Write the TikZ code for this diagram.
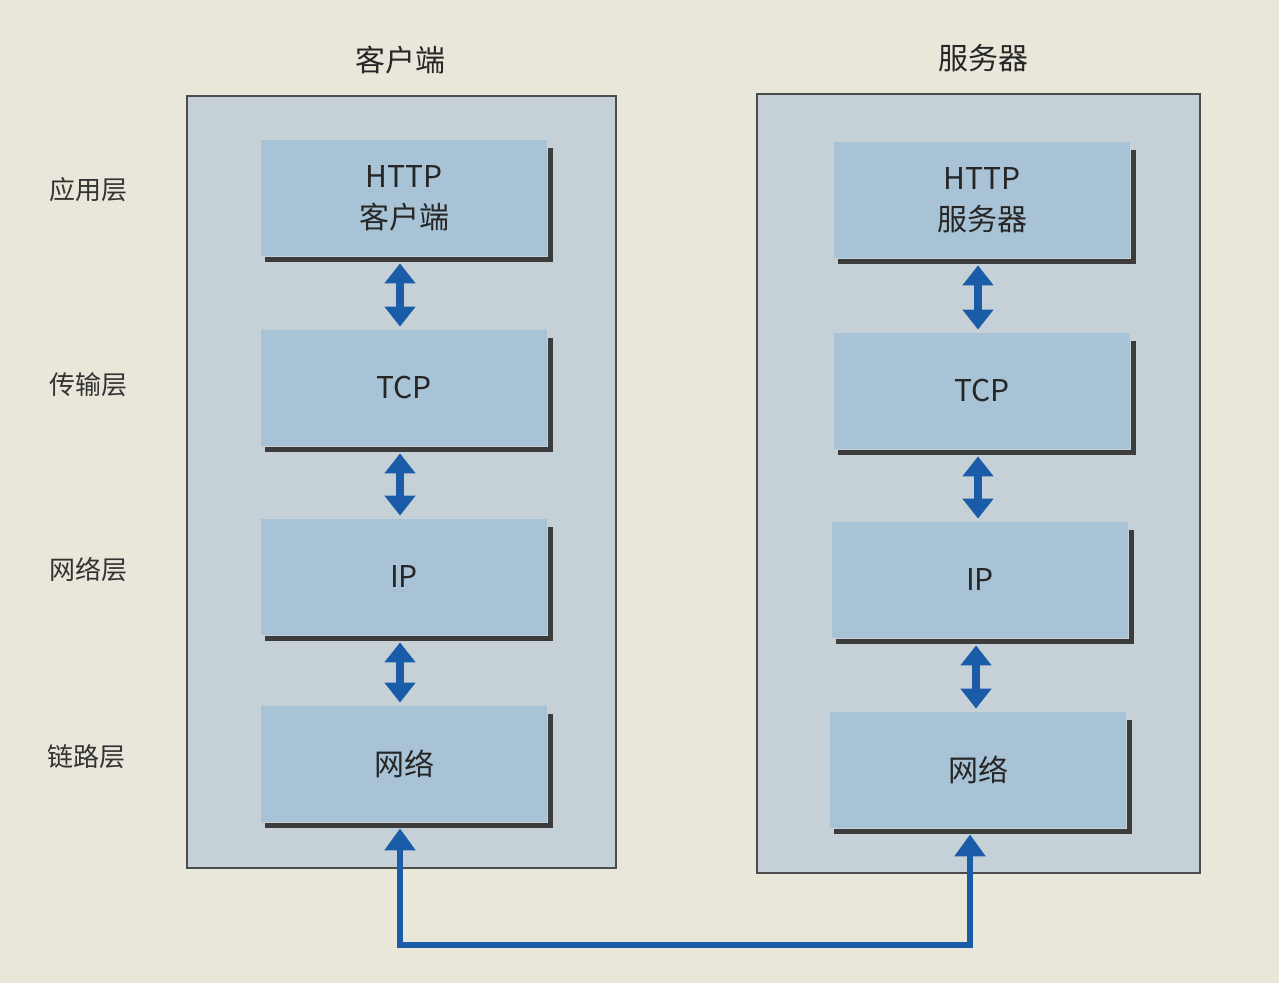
\documentclass[tikz,border=0pt]{standalone}
\usepackage{fontspec}
\setmainfont{Noto Sans CJK SC}
\usetikzlibrary{arrows.meta,calc}
\definecolor{paper}{HTML}{E9E6DA}
\definecolor{outerfill}{HTML}{C6D1D7}
\definecolor{innerfill}{HTML}{A8C3D5}
\definecolor{shadowc}{HTML}{3C3C3C}
\definecolor{arrowc}{HTML}{1A5CA8}
\tikzset{
  x=0.5pt,y=-0.5pt,
  outerbox/.style={draw=black!70,line width=0.8pt,fill=outerfill},
  layerbox/.style={fill=innerfill,minimum width=143pt,minimum height=58pt,inner sep=0pt,align=center,font=\fontsize{15}{20.5}\selectfont,text=black!85},
  shadowline/.style={draw=shadowc,line width=2.5pt},
  dblarrow/.style={draw=arrowc,line width=3.8pt,{Triangle[width=15pt,length=10pt]}-{Triangle[width=15pt,length=10pt]}},
  linkarrow/.style={draw=arrowc,line width=3pt,{Triangle[width=15pt,length=11pt]}-{Triangle[width=15pt,length=11pt]}},
  layerlabel/.style={font=\fontsize{13}{15}\selectfont,text=black!80},
  titlelabel/.style={font=\fontsize{15}{18}\selectfont,text=black!85}
}
\newcommand{\boxshadow}[1]{%
  \draw[shadowline] ($(#1.north east)+(3,8)$) -- ($(#1.south east)+(3,3)$) -- ($(#1.south west)+(4,3)$);}
\newcommand{\stackarrow}[2]{%
  \coordinate (#1-out) at ($(#1.south)+(-4,7)$);
  \coordinate (#1-in) at ($(#1-out |- #2.north)+(0,-3)$);
  \draw[dblarrow] (#1-out) -- (#1-in);}
\begin{document}
\begin{tikzpicture}
\useasboundingbox (0,0) rectangle (1279,983);
\fill[paper] (0,0) rectangle (1279,983);
% outer boxes
\draw[outerbox] (187,96) rectangle (616,868);
\draw[outerbox] (757,94) rectangle (1200,873);
% titles
\node[titlelabel] (tclient) at (400,60) {客户端};
\node[titlelabel] (tserver) at (983,58) {服务器};
% layer labels
\node[layerlabel] (l1) at (88,190) {应用层};
\node[layerlabel] (l2) at (88,385) {传输层};
\node[layerlabel] (l3) at (88,570) {网络层};
\node[layerlabel] (l4) at (86,757) {链路层};
% client stack
\node[layerbox] (c1) at (404,198) {HTTP\\客户端};
\node[layerbox] (c2) at (404,388) {TCP};
\node[layerbox] (c3) at (404,577) {IP};
\node[layerbox] (c4) at (404,764) {网络};
% server stack
\node[layerbox,minimum width=148pt] (s1) at (982,200) {HTTP\\服务器};
\node[layerbox,minimum width=148pt] (s2) at (982,391) {TCP};
\node[layerbox,minimum width=148pt] (s3) at (980,580) {IP};
\node[layerbox,minimum width=148pt] (s4) at (978,770) {网络};
\foreach \b in {c1,c2,c3,c4,s1,s2,s3,s4}{\boxshadow{\b}}
% vertical double arrows
\stackarrow{c1}{c2}
\stackarrow{c2}{c3}
\stackarrow{c3}{c4}
\stackarrow{s1}{s2}
\stackarrow{s2}{s3}
\stackarrow{s3}{s4}
% link between the two network layers
\coordinate (cb) at ($(c4.south)+(-4,6)$);
\coordinate (sb) at ($(s4.south)+(-8,6)$);
\draw[linkarrow] (cb) -- (cb |- 0,945) -- (sb |- 0,945) -- (sb);
\end{tikzpicture}
\end{document}
